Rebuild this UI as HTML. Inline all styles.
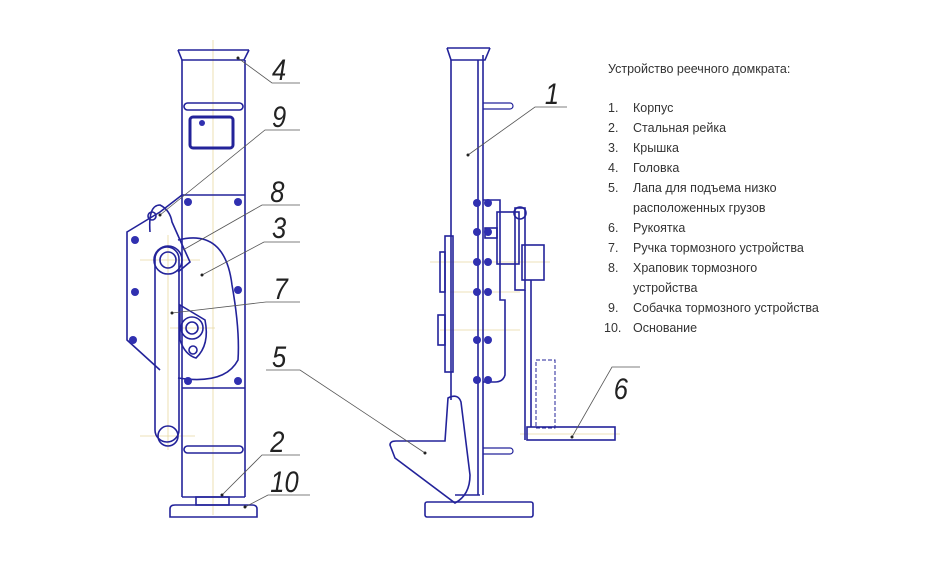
<!DOCTYPE html>
<html><head><meta charset="utf-8"><style>
html,body{margin:0;padding:0;background:#fff;}
svg{display:block}
.t{font-family:"Liberation Sans",Arial,sans-serif;font-size:12.5px;fill:#333}
.n{font-family:"Liberation Sans",sans-serif;font-size:30px;font-style:italic;fill:#222}
</style></head><body>
<svg width="945" height="567" viewBox="0 0 945 567" xmlns="http://www.w3.org/2000/svg">
<g stroke="#e8d8a0" stroke-width="0.8" fill="none">
<line x1="213" y1="40" x2="213" y2="515"/>
<line x1="140" y1="260" x2="200" y2="260"/><line x1="168" y1="235" x2="168" y2="450"/>
<line x1="170" y1="328" x2="215" y2="328"/><line x1="140" y1="436" x2="195" y2="436"/>
<line x1="430" y1="262" x2="550" y2="262"/><line x1="440" y1="330" x2="520" y2="330"/>
<line x1="450" y1="292" x2="520" y2="292"/><line x1="520" y1="434" x2="620" y2="434"/>
</g>
<g stroke="#23239a" stroke-width="1.6" fill="none">
<polyline points="178,50 182,60 244,60 249,50"/>
<line x1="178" y1="50" x2="249" y2="50"/>
<line x1="182" y1="60" x2="182" y2="497"/><line x1="245" y1="60" x2="245" y2="497"/>
<line x1="182" y1="195" x2="245" y2="195"/><line x1="182" y1="388" x2="245" y2="388"/>
<line x1="182" y1="497" x2="245" y2="497"/>
<rect x="184" y="103" width="59" height="7" rx="3.5"/>
<rect x="184" y="446" width="59" height="7" rx="3.5"/>
<rect x="190" y="117" width="43" height="31" rx="3" stroke-width="3"/>
<rect x="196" y="497" width="33" height="8"/>
<path d="M170,517 L170,509 Q170,505 175,505 L252,505 Q257,505 257,509 L257,517 Z"/>
<polyline points="182,195 160,212 127,232 127,340 160,370"/>
<path d="M178,240 Q225,228 232,285 Q240,330 238,360 Q225,385 178,378"/>
<rect x="155" y="247" width="24" height="195" rx="12"/>
<circle cx="168" cy="436" r="10"/>
<circle cx="168" cy="260" r="14"/><circle cx="168" cy="260" r="8"/>
<path d="M150,232 Q148,205 160,205 Q170,210 172,222 L180,240 L190,262 L178,272"/>
<circle cx="152" cy="216" r="4"/>
<path d="M180,305 L205,320 Q210,345 196,358 Q185,355 180,340 Z"/>
<circle cx="192" cy="328" r="11"/><circle cx="192" cy="328" r="6"/><circle cx="193" cy="350" r="4"/>
<polyline points="447,48 451,60 485,60 490,48"/>
<line x1="447" y1="48" x2="490" y2="48"/>
<line x1="451" y1="60" x2="451" y2="400"/>
<line x1="478" y1="60" x2="478" y2="495"/><line x1="483" y1="55" x2="483" y2="495"/>
<path d="M483,103 L510,103 A3,3 0 0 1 510,109 L483,109" stroke-width="1.2"/>
<path d="M483,448 L510,448 A3,3 0 0 1 510,454 L483,454" stroke-width="1.2"/>
<rect x="445" y="236" width="8" height="136"/><rect x="440" y="252" width="5" height="40"/><rect x="438" y="315" width="7" height="30"/>
<path d="M483,200 L500,200 L500,300 L505,300 L505,375 Q503,382 495,382 L483,382"/>
<rect x="497" y="212" width="22" height="52"/><rect x="485" y="228" width="12" height="10"/>
<rect x="515" y="208" width="10" height="82"/><circle cx="520" cy="213" r="6"/>
<rect x="522" y="245" width="22" height="35"/>
<line x1="525" y1="290" x2="525" y2="440"/><line x1="531" y1="280" x2="531" y2="427"/>
<rect x="527" y="427" width="88" height="13"/>
<path d="M448,398 Q458,393 461,402 L470,475 Q470,495 455,503 L395,458 L390,445 Q390,441 396,441 L445,441 Z"/>
<rect x="425" y="502" width="108" height="15" rx="2"/>
<line x1="455" y1="495" x2="480" y2="495"/>
</g>
<g stroke="#23239a" stroke-width="1" fill="none" stroke-dasharray="4,2">
<rect x="536" y="360" width="19" height="68"/>
</g>
<g fill="#3030b0">
<circle cx="188" cy="202" r="4"/><circle cx="238" cy="202" r="4"/><circle cx="135" cy="240" r="4"/>
<circle cx="135" cy="292" r="4"/><circle cx="238" cy="290" r="4"/><circle cx="133" cy="340" r="4"/>
<circle cx="188" cy="381" r="4"/><circle cx="238" cy="381" r="4"/>
<circle cx="202" cy="123" r="3"/>
<g><circle cx="477" cy="203" r="4"/><circle cx="488" cy="203" r="4"/><circle cx="477" cy="232" r="4"/><circle cx="488" cy="232" r="4"/>
<circle cx="477" cy="262" r="4"/><circle cx="488" cy="262" r="4"/><circle cx="477" cy="292" r="4"/><circle cx="488" cy="292" r="4"/>
<circle cx="477" cy="340" r="4"/><circle cx="488" cy="340" r="4"/><circle cx="477" cy="380" r="4"/><circle cx="488" cy="380" r="4"/></g>
</g>
<g stroke="#555" stroke-width="0.8" fill="none">
<polyline points="238,58 272,83 300,83"/>
<polyline points="160,215 265,130 300,130"/>
<polyline points="183,250 262,205 300,205"/>
<polyline points="202,275 264,242 300,242"/>
<polyline points="172,313 266,302 300,302"/>
<polyline points="266,370 300,370 425,453"/>
<polyline points="222,495 262,455 300,455"/>
<polyline points="245,507 268,495 310,495"/>
<polyline points="468,155 535,107 567,107"/>
<polyline points="572,437 612,367 640,367"/>
</g>
<g fill="#222"><circle cx="238" cy="58" r="1.5"/><circle cx="160" cy="215" r="1.5"/><circle cx="202" cy="275" r="1.5"/>
<circle cx="172" cy="313" r="1.5"/><circle cx="425" cy="453" r="1.5"/><circle cx="222" cy="495" r="1.5"/><circle cx="245" cy="507" r="1.5"/>
<circle cx="468" cy="155" r="1.5"/><circle cx="572" cy="437" r="1.5"/></g>
<g transform="scale(0.85,1)">
<text class="n" x="320" y="80">4</text>
<text class="n" x="320" y="127">9</text>
<text class="n" x="318" y="202">8</text>
<text class="n" x="320" y="238">3</text>
<text class="n" x="322" y="299">7</text>
<text class="n" x="320" y="367">5</text>
<text class="n" x="318" y="452">2</text>
<text class="n" x="318" y="492">10</text>
<text class="n" x="641" y="104">1</text>
<text class="n" x="722" y="399">6</text>
</g>
<text class="t" x="608" y="73">Устройство реечного домкрата:</text>
<g class="t">
<text x="608" y="112">1.</text><text x="633" y="112">Корпус</text>
<text x="608" y="132">2.</text><text x="633" y="132">Стальная рейка</text>
<text x="608" y="152">3.</text><text x="633" y="152">Крышка</text>
<text x="608" y="172">4.</text><text x="633" y="172">Головка</text>
<text x="608" y="192">5.</text><text x="633" y="192">Лапа для подъема низко</text>
<text x="633" y="212">расположенных грузов</text>
<text x="608" y="232">6.</text><text x="633" y="232">Рукоятка</text>
<text x="608" y="252">7.</text><text x="633" y="252">Ручка тормозного устройства</text>
<text x="608" y="272">8.</text><text x="633" y="272">Храповик тормозного</text>
<text x="633" y="292">устройства</text>
<text x="608" y="312">9.</text><text x="633" y="312">Собачка тормозного устройства</text>
<text x="604" y="332">10.</text><text x="633" y="332">Основание</text>
</g>
</svg>
</body></html>
